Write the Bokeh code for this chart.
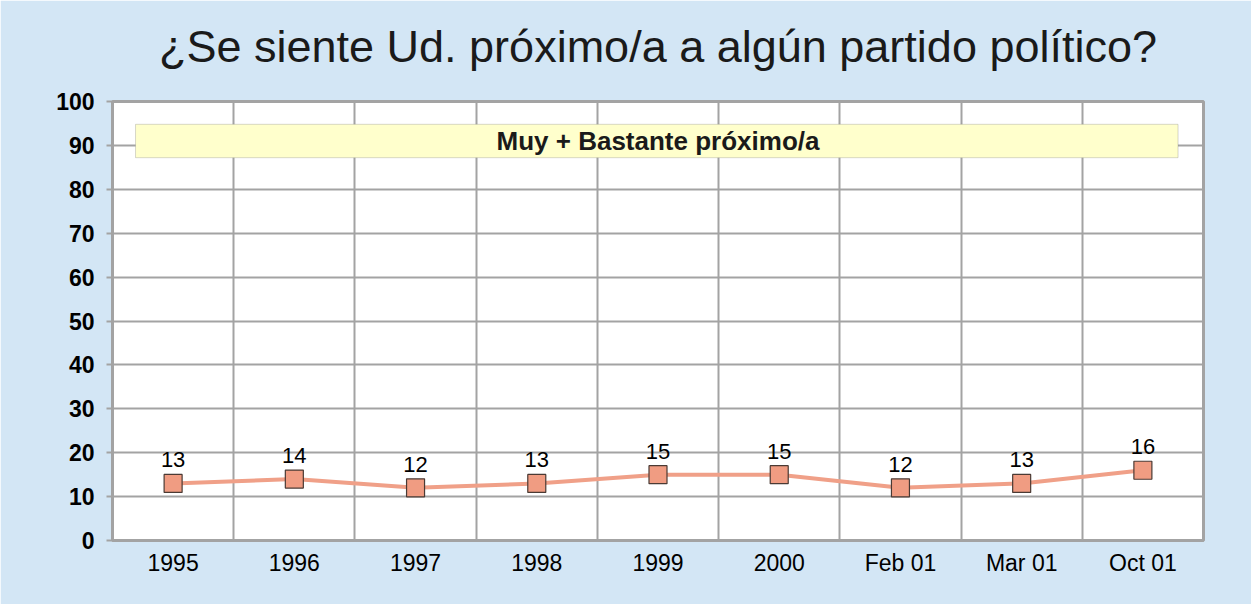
from bokeh.plotting import figure
from bokeh.models import (Range1d, FixedTicker, Grid, BoxAnnotation, Label,
                          ColumnDataSource, LinearAxis)
from bokeh.core.properties import value
from bokeh.embed import file_html
from bokeh.resources import INLINE

categories = ["1995", "1996", "1997", "1998", "1999", "2000", "Feb 01", "Mar 01", "Oct 01"]
values = [13, 14, 12, 13, 15, 15, 12, 13, 16]
y_ticks = [0, 10, 20, 30, 40, 50, 60, 70, 80, 90, 100]
title_text = "¿Se siente Ud. próximo/a a algún partido político?"
band_text = "Muy + Bastante próximo/a"

FONT = "Liberation Sans"
BG = "#D3E6F5"
GRID = "#A3A3A3"

xs = list(range(len(categories)))
src = ColumnDataSource(dict(x=xs, y=values, lab=[str(v) for v in values]))

p = figure(width=1251, height=604, output_backend="svg", toolbar_location=None,
           x_range=Range1d(-0.5, len(categories) - 0.5), y_range=Range1d(0, 100),
           min_border_left=112, min_border_right=48, min_border_top=101,
           min_border_bottom=64)
p.background_fill_color = "white"
p.border_fill_color = BG
p.outline_line_color = GRID
p.outline_line_width = 3
p.title.visible = False

# bottom category axis (configured before the title axis is added)
xa = p.below[0]
xa.ticker = FixedTicker(ticks=xs)
xa.major_label_overrides = {i: c for i, c in enumerate(categories)}
xa.major_label_text_font = FONT
xa.major_label_text_font_size = "23px"
xa.major_label_text_color = "black"
xa.major_tick_line_color = None
xa.minor_tick_line_color = None
xa.axis_line_color = GRID
xa.axis_line_width = 3
xa.major_label_standoff = 3

# title: label of an empty axis placed above the frame
title_axis = LinearAxis(ticker=FixedTicker(ticks=[]), axis_label=title_text,
                        axis_line_color=None, major_tick_line_color=None,
                        minor_tick_line_color=None,
                        axis_label_standoff=30, axis_label_text_font=FONT,
                        axis_label_text_font_size="45px",
                        axis_label_text_font_style="normal",
                        axis_label_text_color="#1a1a1a")
p.add_layout(title_axis, "above")

p.yaxis.ticker = FixedTicker(ticks=y_ticks)
p.yaxis.major_label_text_font = FONT
p.yaxis.major_label_text_font_size = "23px"
p.yaxis.major_label_text_font_style = "bold"
p.yaxis.major_label_text_color = "black"
p.yaxis.major_tick_line_color = GRID
p.yaxis.major_tick_line_width = 2
p.yaxis.major_tick_out = 6
p.yaxis.major_tick_in = 0
p.yaxis.minor_tick_line_color = None
p.yaxis.axis_line_color = GRID
p.yaxis.axis_line_width = 3
p.yaxis.major_label_standoff = 12

# grids
p.xgrid.grid_line_color = None
bounds = [i + 0.5 for i in range(len(categories) - 1)]
p.add_layout(Grid(dimension=0, ticker=FixedTicker(ticks=bounds),
                  grid_line_color=GRID, grid_line_width=2))
p.ygrid.grid_line_color = GRID
p.ygrid.grid_line_width = 2

# band
p.add_layout(BoxAnnotation(left=-0.31, right=len(categories) - 1 + 0.29,
                           bottom=87.2, top=94.8,
                           fill_color="#FFFFCC", fill_alpha=1,
                           line_color="#7a7a7a", line_width=1))
p.add_layout(Label(x=(len(categories) - 1) / 2, y=91.0, text=band_text,
                   text_align="center", text_baseline="middle",
                   text_font=FONT, text_font_size="26px",
                   text_font_style="bold", text_color="#1a1a1a"))

# series
p.line("x", "y", source=src, line_color="#F0A088", line_width=4)
p.scatter("x", "y", source=src, marker="square", size=18,
          fill_color="#F09C82", line_color="#4a3a34", line_width=1.2)
p.text("x", "y", text="lab", source=src, y_offset=-16,
       text_align="center", text_baseline="bottom",
       text_font=value(FONT), text_font_size="22px", text_color="black")

open("out.html", "w").write(file_html(p, INLINE))
